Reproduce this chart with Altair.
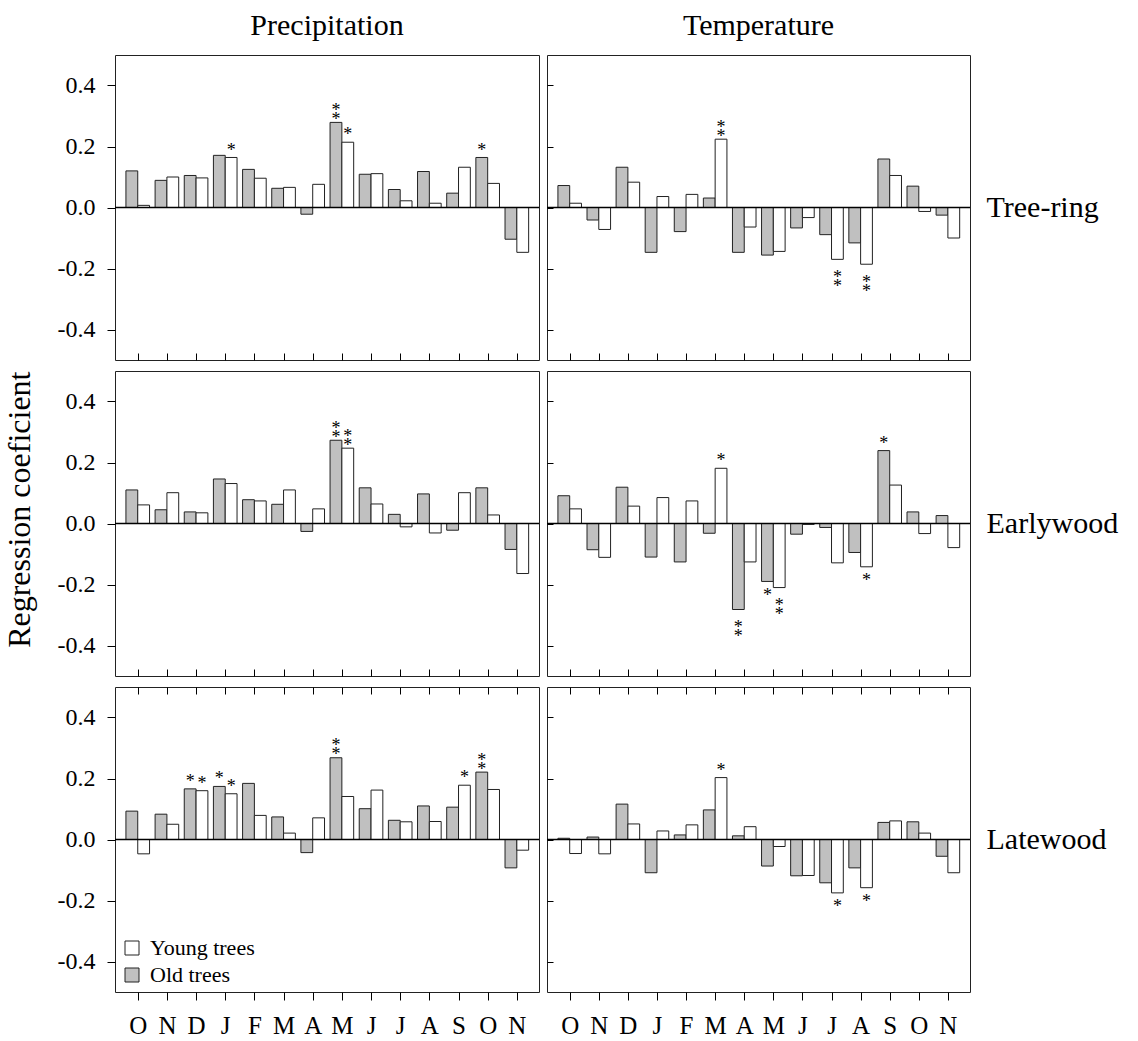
import altair as alt
import pandas as pd

FONT = "Liberation Serif"

months = ["O", "N", "D", "J", "F", "M", "A", "M", "J", "J", "A", "S", "O", "N"]
variables = ["Precipitation", "Temperature"]
ring_types = ["Tree-ring", "Earlywood", "Latewood"]
groups = ["Young trees", "Old trees"]

# ---- regression coefficients ----
precip_tree_old = [0.120, 0.089, 0.105, 0.171, 0.125, 0.063, -0.022, 0.279, 0.109, 0.059, 0.118, 0.047, 0.164, -0.104]
precip_tree_young = [0.007, 0.100, 0.097, 0.164, 0.096, 0.066, 0.076, 0.214, 0.111, 0.022, 0.014, 0.132, 0.079, -0.147]
temp_tree_old = [0.072, -0.041, 0.132, -0.147, -0.079, 0.031, -0.147, -0.156, -0.067, -0.089, -0.116, 0.159, 0.070, -0.025]
temp_tree_young = [0.014, -0.072, 0.083, 0.036, 0.043, 0.224, -0.064, -0.144, -0.033, -0.170, -0.186, 0.105, -0.013, -0.100]

precip_early_old = [0.110, 0.045, 0.038, 0.146, 0.078, 0.063, -0.026, 0.273, 0.117, 0.030, 0.097, -0.022, 0.117, -0.085]
precip_early_young = [0.061, 0.101, 0.035, 0.131, 0.074, 0.110, 0.048, 0.247, 0.064, -0.011, -0.031, 0.101, 0.028, -0.164]
temp_early_old = [0.091, -0.086, 0.119, -0.110, -0.126, -0.032, -0.282, -0.190, -0.035, -0.013, -0.095, 0.239, 0.038, 0.026]
temp_early_young = [0.048, -0.111, 0.057, 0.085, 0.074, 0.181, -0.126, -0.210, -0.003, -0.129, -0.142, 0.126, -0.033, -0.079]

precip_late_old = [0.093, 0.083, 0.166, 0.174, 0.184, 0.074, -0.043, 0.268, 0.101, 0.063, 0.110, 0.106, 0.221, -0.093]
precip_late_young = [-0.047, 0.050, 0.160, 0.150, 0.079, 0.021, 0.071, 0.141, 0.162, 0.058, 0.059, 0.178, 0.164, -0.035]
temp_late_old = [0.004, 0.008, 0.116, -0.109, 0.015, 0.097, 0.012, -0.087, -0.119, -0.142, -0.093, 0.056, 0.058, -0.055]
temp_late_young = [-0.046, -0.047, 0.051, 0.028, 0.048, 0.203, 0.042, -0.023, -0.118, -0.175, -0.158, 0.061, 0.021, -0.109]

# ---- number of significance asterisks ----
precip_tree_old_sig = [0, 0, 0, 0, 0, 0, 0, 2, 0, 0, 0, 0, 1, 0]
precip_tree_young_sig = [0, 0, 0, 1, 0, 0, 0, 1, 0, 0, 0, 0, 0, 0]
temp_tree_old_sig = [0, 0, 0, 0, 0, 0, 0, 0, 0, 0, 0, 0, 0, 0]
temp_tree_young_sig = [0, 0, 0, 0, 0, 2, 0, 0, 0, 2, 2, 0, 0, 0]

precip_early_old_sig = [0, 0, 0, 0, 0, 0, 0, 2, 0, 0, 0, 0, 0, 0]
precip_early_young_sig = [0, 0, 0, 0, 0, 0, 0, 2, 0, 0, 0, 0, 0, 0]
temp_early_old_sig = [0, 0, 0, 0, 0, 0, 2, 1, 0, 0, 0, 1, 0, 0]
temp_early_young_sig = [0, 0, 0, 0, 0, 1, 0, 2, 0, 0, 1, 0, 0, 0]

precip_late_old_sig = [0, 0, 1, 1, 0, 0, 0, 2, 0, 0, 0, 0, 2, 0]
precip_late_young_sig = [0, 0, 1, 1, 0, 0, 0, 0, 0, 0, 0, 1, 0, 0]
temp_late_old_sig = [0, 0, 0, 0, 0, 0, 0, 0, 0, 0, 0, 0, 0, 0]
temp_late_young_sig = [0, 0, 0, 0, 0, 1, 0, 0, 0, 1, 1, 0, 0, 0]

panels_data = {
    (0, 0): (precip_tree_old, precip_tree_young, precip_tree_old_sig, precip_tree_young_sig),
    (1, 0): (temp_tree_old, temp_tree_young, temp_tree_old_sig, temp_tree_young_sig),
    (0, 1): (precip_early_old, precip_early_young, precip_early_old_sig, precip_early_young_sig),
    (1, 1): (temp_early_old, temp_early_young, temp_early_old_sig, temp_early_young_sig),
    (0, 2): (precip_late_old, precip_late_young, precip_late_old_sig, precip_late_young_sig),
    (1, 2): (temp_late_old, temp_late_young, temp_late_old_sig, temp_late_young_sig),
}

BW = 0.405  # bar width in month units
W_LEFT, W_RIGHT, H = 424, 423, 305
x_scale = alt.Scale(domain=[-0.78, 13.76], nice=False, zero=False)
y_scale = alt.Scale(domain=[-0.5, 0.5], nice=False, zero=False)
month_expr = "[" + ",".join(f"'{m}'" for m in months) + "][datum.value]"
ylab_expr = "(datum.value < 0 ? '-' : '') + format(abs(datum.value), '.1f')"
yticks = [-0.4, -0.2, 0.0, 0.2, 0.4]
xticks = list(range(len(months)))


def make_panel(vi, ri):
    old, young, old_sig, young_sig = panels_data[(vi, ri)]
    rows, star_rows = [], []
    for g, vals, sig in (("Old trees", old, old_sig), ("Young trees", young, young_sig)):
        for i, (v, k) in enumerate(zip(vals, sig)):
            rows.append({"idx": i, "group": g, "value": v})
            if k > 0:
                sgn = 1 if v >= 0 else -1
                off = 0.036 if v >= 0 else 0.033
                star_rows.append({"idx": i, "group": g,
                                  "ys": v + sgn * (off + (k - 1) * 0.0148),
                                  "txt": "\n".join(["*"] * k)})
    df = pd.DataFrame(rows)
    sdf = pd.DataFrame(star_rows, columns=["idx", "group", "ys", "txt"])

    left = vi == 0
    bottom = ri == 2

    if bottom:
        x_axis = alt.Axis(values=xticks, labelExpr=month_expr, tickSize=8, labelFontSize=25,
                          labelPadding=13, domain=False, grid=False, title=None, labelFont=FONT,
                          labelColor="black", tickColor="black", labelAngle=0)
    else:
        x_axis = alt.Axis(values=xticks, labels=False, tickSize=7, offset=-7, domain=False,
                          grid=False, title=None, tickColor="black")
    if left:
        y_kw = dict(values=yticks, labelExpr=ylab_expr, tickSize=8, labelFontSize=24,
                    labelPadding=12, domain=False, grid=False, labelFont=FONT, labelColor="black",
                    tickColor="black")
        if ri == 1:
            y_kw.update(title="Regression coeficient", titleFontSize=32, titleFont=FONT,
                        titleFontWeight="normal", titleColor="black", titlePadding=21,
                        titleAnchor="end")
        else:
            y_kw.update(title=None)
        y_axis = alt.Axis(**y_kw)
    else:
        y_axis = alt.Axis(values=yticks, labels=False, tickSize=6, offset=-6, domain=False,
                          grid=False, title=None, tickColor="black")

    legend = None
    if left and bottom:
        legend = alt.Legend(orient="bottom-left", title=None, offset=6, padding=0,
                            symbolType="square", symbolSize=196, symbolStrokeColor="#222",
                            symbolStrokeWidth=1, labelFontSize=22, labelFont=FONT,
                            labelColor="black", labelOffset=7, rowPadding=5)

    bars = alt.Chart(df).transform_calculate(
        x0=f"datum.idx - (datum.group == 'Old trees' ? {BW} : 0)",
        x1=f"datum.idx + (datum.group == 'Old trees' ? 0 : {BW})",
    ).mark_rect(stroke="#222", strokeWidth=1).encode(
        x=alt.X("x0:Q", scale=x_scale, axis=x_axis),
        x2="x1:Q",
        y=alt.Y("value:Q", scale=y_scale, axis=y_axis),
        y2=alt.datum(0),
        fill=alt.Fill("group:N", scale=alt.Scale(domain=groups, range=["white", "#c0c0c0"]),
                      legend=legend),
    )

    if left:
        zero_axis = None
    else:
        zero_axis = alt.Axis(orient="right", labels=False, ticks=False, domain=False, grid=False,
                             title=ring_types[ri], titleAngle=0, titleAlign="left",
                             titleBaseline="middle", titleX=16, titleY=H / 2,
                             titleFontSize=30, titleFont=FONT, titleFontWeight="normal",
                             titleColor="black")
    zero = alt.Chart(pd.DataFrame({"z": [0.0]})).mark_rule(color="black", strokeWidth=1.5).encode(
        y=alt.Y("z:Q", scale=y_scale, axis=zero_axis)
    )

    if bottom:
        top_axis = alt.Axis(orient="top", values=xticks, labels=False, tickSize=7, offset=-7,
                            domain=False, grid=False, title=None, tickColor="black")
    else:
        top_axis = None
    stars = alt.Chart(sdf).transform_calculate(
        xs=f"datum.idx + (datum.group == 'Old trees' ? {-BW / 2} : {BW / 2})"
    ).mark_text(fontSize=18, font=FONT, baseline="middle", dy=4, fill="black",
                lineBreak="\n", lineHeight=9).encode(
        x=alt.X("xs:Q", scale=x_scale, axis=top_axis),
        y=alt.Y("ys:Q", scale=y_scale, axis=None),
        text=alt.Text("txt:N"),
    )

    layer = alt.layer(bars, zero, stars).resolve_axis(x="independent", y="independent")
    props = dict(width=W_LEFT if left else W_RIGHT, height=H,
                 view=alt.ViewBackground(stroke="#222", strokeWidth=1))
    if ri == 0:
        props["title"] = alt.TitleParams(variables[vi], fontSize=30, font=FONT, fontWeight="normal",
                                         color="black", anchor="middle", offset=14)
    return layer.properties(**props)


panels = [make_panel(vi, ri) for ri in range(3) for vi in range(2)]

chart = alt.concat(*panels, columns=2, spacing={"row": 9, "column": 4}).resolve_scale(
    fill="independent"
).resolve_legend(fill="independent").properties(
    padding={"left": 2, "top": 10, "right": 5, "bottom": 0},
    background="white",
).configure(
    font=FONT,
    view=alt.ViewConfig(stroke="#222", strokeWidth=1),
)

chart.save("out.html", embed_options={"renderer": "svg", "actions": False})
